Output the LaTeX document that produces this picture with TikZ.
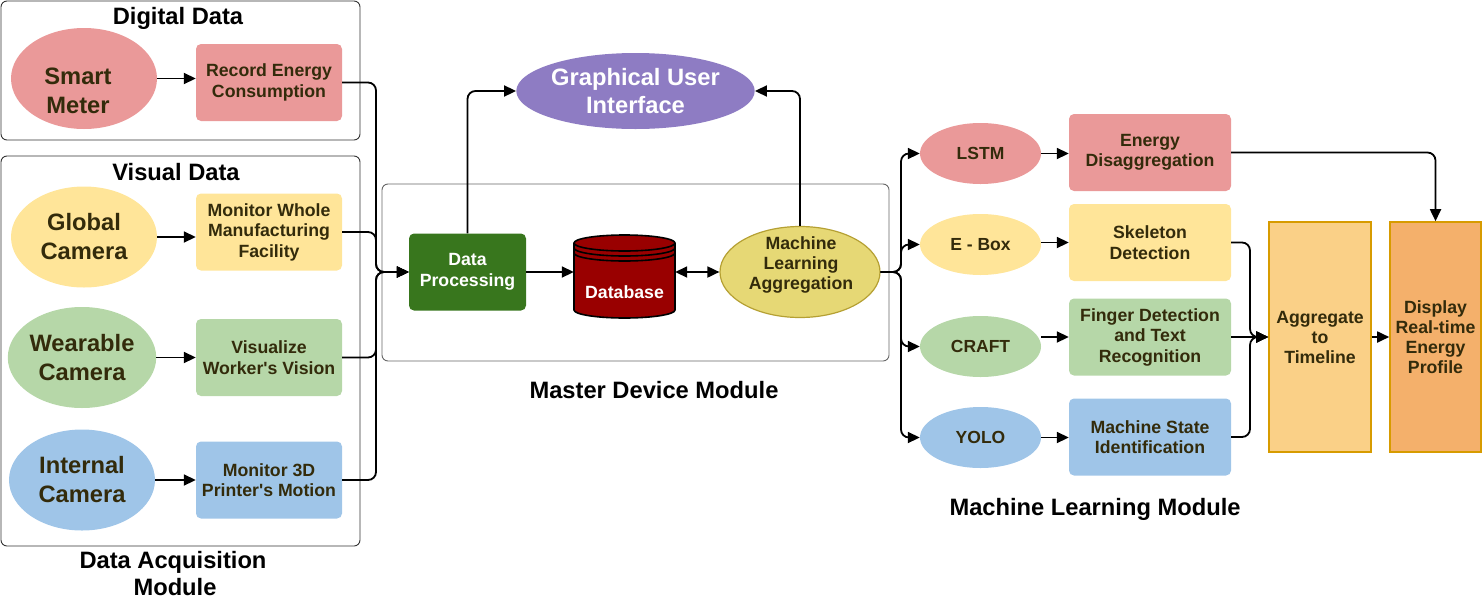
\documentclass[tikz,border=0pt]{standalone}
\usepackage{fontspec}
\setmainfont{Liberation Sans}
\usetikzlibrary{shapes.geometric,arrows.meta}
\definecolor{cred}{HTML}{EA9999}
\definecolor{cyel}{HTML}{FFE599}
\definecolor{cgrn}{HTML}{B6D7A8}
\definecolor{cblu}{HTML}{9FC5E8}
\definecolor{txt}{HTML}{332B0B}
\definecolor{cgui}{HTML}{8E7CC3}
\definecolor{cdp}{HTML}{38761D}
\definecolor{cdb}{HTML}{990000}
\definecolor{cmla}{HTML}{E6D875}
\definecolor{cmlab}{HTML}{B5A033}
\definecolor{cagg}{HTML}{FAD087}
\definecolor{cdisp}{HTML}{F4B06B}
\definecolor{corg}{HTML}{D79B00}
\begin{document}
\begin{tikzpicture}[x=1pt,y=-1pt,
  every node/.style={text=txt, inner sep=0pt, align=center},
  ttl/.style={font=\bfseries\fontsize{23.7}{28}\selectfont, text=black},
  bigell/.style={ellipse, font=\bfseries\fontsize{23.7}{29}\selectfont, minimum width=146pt, minimum height=101pt},
  bigtxt/.style={font=\bfseries\fontsize{23.7}{29}\selectfont},
  smell/.style={ellipse, font=\bfseries\fontsize{17.5}{21}\selectfont, minimum width=121pt, minimum height=61pt},
  lbox/.style={rectangle, rounded corners=5pt, minimum width=146pt, minimum height=77pt, font=\bfseries\fontsize{17.7}{20.5}\selectfont},
  rbox/.style={lbox, minimum width=162pt},
  tall/.style={rectangle, draw=corg, line width=1.6pt, minimum width=102pt, minimum height=230pt, font=\bfseries\fontsize{17.7}{20}\selectfont},
  cont/.style={draw=black!80, line width=0.9pt, rounded corners=6pt},
  arr/.style={line width=1.8pt, -{Triangle[length=12pt,width=11pt]}, rounded corners=8pt},
  darr/.style={line width=1.8pt, {Triangle[length=12pt,width=11pt]}-{Triangle[length=12pt,width=11pt]}}
]
\useasboundingbox (0,0) rectangle (1482,600);

% containers
\draw[cont] (1,1) rectangle (360,140);
\draw[cont] (1,156) rectangle (360,546);
\draw[cont, draw=black!60] (382,184) rectangle (889,361);

% titles
\node[ttl, anchor=base] (tdig) at (178,24) {Digital Data};
\node[ttl, anchor=base] (tvis) at (176,180) {Visual Data};
\node[ttl, anchor=base] (tdaq1) at (173,568) {Data Acquisition};
\node[ttl, anchor=base] (tdaq2) at (175,595) {Module};
\node[ttl, anchor=base] (tmas) at (654,398) {Master Device Module};
\node[ttl, anchor=base] (tml) at (1095,515) {Machine Learning Module};

% data acquisition
\node[bigell, fill=cred] (sm) at (84,78.5) {};
\node[bigtxt] (smt) at (78,91) {Smart\\Meter};
\node[lbox, fill=cred] (rec) at (269,82.5) {Record Energy\\Consumption};
\node[bigell, fill=cyel] (gc) at (84,237) {Global\\Camera};
\node[lbox, fill=cyel] (mw) at (269,232) {Monitor Whole\\Manufacturing\\Facility};
\node[bigell, fill=cgrn] (wc) at (82,357.5) {Wearable\\Camera};
\node[lbox, fill=cgrn] (vw) at (269,357.5) {Visualize\\Worker\textquotesingle s Vision};
\node[bigell, fill=cblu] (ic) at (82,480) {Internal\\Camera};
\node[lbox, fill=cblu] (m3) at (269,480) {Monitor 3D\\Printer\textquotesingle s Motion};

\draw[arr] (sm.east) -- (rec.west |- sm.east);
\draw[arr] (gc.east) -- (mw.west |- gc.east);
\draw[arr] (wc.east) -- (vw.west |- wc.east);
\draw[arr] (ic.east) -- (m3.west |- ic.east);

% master device
\node[lbox, fill=cdp, text=white, minimum width=117pt] (dp) at (467.5,272) {Data\\Processing};
\node[minimum width=101pt, minimum height=86pt] (db) at (624.5,277) {};
\filldraw[fill=cdb, draw=black, line width=1.6pt]
  (574,243) -- (574,310) arc[start angle=180, end angle=0, x radius=50.5, y radius=8]
  -- (675,243) arc[start angle=0, end angle=-180, x radius=50.5, y radius=8] -- cycle;
\draw[line width=1.6pt] (574,243) arc[start angle=180, end angle=0, x radius=50.5, y radius=8];
\draw[line width=1.6pt] (574,248) arc[start angle=180, end angle=0, x radius=50.5, y radius=8];
\draw[line width=1.6pt] (574,253) arc[start angle=180, end angle=0, x radius=50.5, y radius=8];
\node[font=\bfseries\fontsize{17.7}{20}\selectfont, text=white] (dbt) at (624.5,292) {Database};
\node[ellipse, fill=cmla, draw=cmlab, line width=1.2pt, minimum width=160pt, minimum height=91pt] (mla) at (800,272) {};
\node[font=\bfseries\fontsize{17.7}{20}\selectfont] (mlat) at (801,265) {Machine\\Learning\\Aggregation};
\node[ellipse, fill=cgui, text=white, font=\bfseries\fontsize{23.7}{27.5}\selectfont, minimum width=221pt, minimum height=76pt] (gui) at (635.5,91) {Graphical User\\Interface};

\coordinate (lbus) at (376,272);
\draw[arr] (rec.east) -| (lbus) -- (dp.west);
\draw[arr] (mw.east) -| (lbus) -- (dp.west);
\draw[arr] (vw.east) -| (lbus) -- (dp.west);
\draw[arr] (m3.east) -| (lbus) -- (dp.west);

\draw[arr] (dp.east) -- (db.west |- dp.east);
\draw[darr] (db.east |- mla.west) -- (mla.west);
\draw[arr] (dp.north) |- (gui.west);
\draw[arr] (mla.north) |- (gui.east);

% machine learning
\node[smell, fill=cred] (lstm) at (980.5,153.5) {LSTM};
\node[smell, fill=cyel] (ebox) at (980.5,244.5) {E - Box};
\node[smell, fill=cgrn] (craft) at (980.5,346.5) {CRAFT};
\node[smell, fill=cblu] (yolo) at (980.5,437.5) {YOLO};
\node[rbox, fill=cred] (ed) at (1150,152.5) {Energy\\Disaggregation};
\node[rbox, fill=cyel] (sk) at (1150,242.5) {Skeleton\\Detection};
\node[rbox, fill=cgrn] (fd) at (1150,337) {Finger Detection\\and Text\\Recognition};
\node[rbox, fill=cblu] (ms) at (1150,437) {Machine State\\Identification};
\node[tall, fill=cagg] (agg) at (1320,337) {Aggregate\\to\\Timeline};
\node[tall, fill=cdisp, minimum width=91pt] (disp) at (1435.5,337) {Display\\Real-time\\Energy\\Profile};

\coordinate (mbus) at (901,272);
\draw[arr] (mla.east) -- (mbus) |- (lstm.west);
\draw[arr] (mla.east) -- (mbus) |- (ebox.west);
\draw[arr] (mla.east) -- (mbus) |- (craft.west);
\draw[arr] (mla.east) -- (mbus) |- (yolo.west);

\draw[arr] (lstm.east) -- (ed.west |- lstm.east);
\draw[arr] (ebox.east |- sk.west) -- (sk.west);
\draw[arr] (craft.east |- fd.west) -- (fd.west);
\draw[arr] (yolo.east) -- (ms.west |- yolo.east);

\coordinate (abus) at (1250,337);
\draw[arr] (sk.east) -| (abus) -- (agg.west);
\draw[arr] (fd.east) -- (agg.west);
\draw[arr] (ms.east) -| (abus) -- (agg.west);
\draw[arr] (agg.east) -- (disp.west);
\draw[arr] (ed.east) -| (disp.north);
\end{tikzpicture}
\end{document}
